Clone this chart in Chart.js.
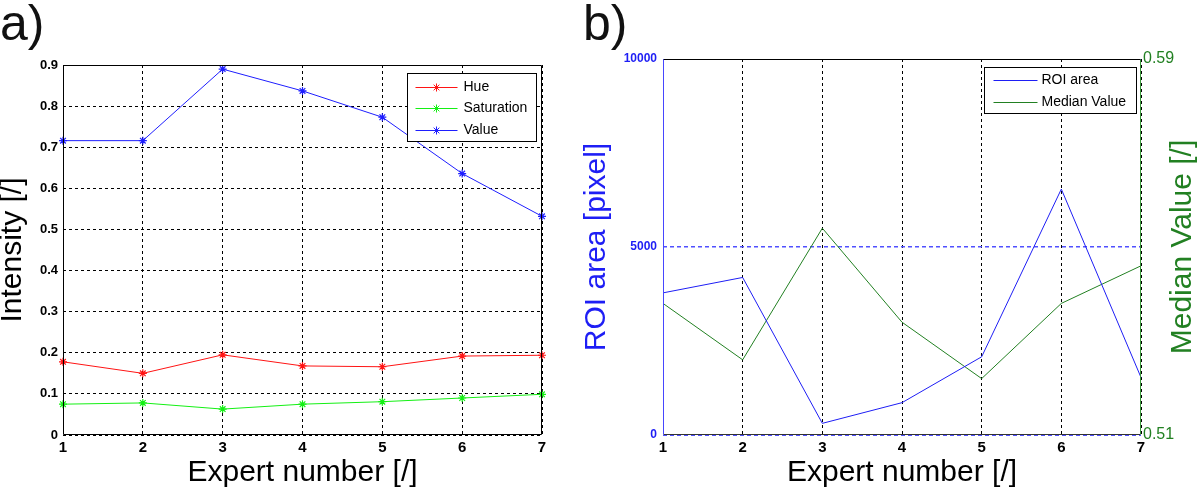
<!DOCTYPE html>
<html lang="en">
<head>
<meta charset="UTF-8">
<title>Expert comparison</title>
<script src="https://cdn.jsdelivr.net/npm/chart.js"></script>
<style>
  body { margin: 0; padding: 0; background: #fff; font-family: "Liberation Sans", Arial, sans-serif; }
  #page { position: relative; width: 1200px; height: 491px; overflow: hidden; }
  .panel { position: absolute; top: 0; height: 491px; }
  #left { left: 0; width: 570px; }
  #right { left: 570px; width: 630px; }
  .tag { position: absolute; top: -2px; font-size: 50px; line-height: 50px; color: #111; z-index: 2; }
</style>
</head>
<body>
<div id="page">
  <div class="panel" id="left"><canvas id="hsvChart"></canvas></div>
  <div class="panel" id="right"><canvas id="roiChart"></canvas></div>
  <div class="tag" style="left:0px">a)</div>
  <div class="tag" style="left:583px">b)</div>
</div>
<script>
// data
const experts = ['1', '2', '3', '4', '5', '6', '7'];
const hue = [0.178, 0.150, 0.195, 0.168, 0.166, 0.192, 0.194];
const saturation = [0.075, 0.078, 0.063, 0.075, 0.081, 0.090, 0.099];
const value = [0.716, 0.716, 0.890, 0.837, 0.773, 0.636, 0.532];
const intensityTicks = [0, 0.1, 0.2, 0.3, 0.4, 0.5, 0.6, 0.7, 0.8, 0.9];

const roiArea = [3780, 4190, 310, 860, 2080, 6540, 1530];
const medianValue = [0.538, 0.526, 0.554, 0.534, 0.522, 0.538, 0.546];
const roiTicks = [0, 5000, 10000];
const medianTicks = [0.51, 0.59];

const FONT = "'Liberation Sans', Arial, sans-serif";
const BLUE = 'rgb(30,30,245)';
const GREEN = 'rgb(34,128,34)';

function drawStar(ctx, x, y, r) {
  ctx.beginPath();
  ctx.moveTo(x - r, y); ctx.lineTo(x + r, y);
  ctx.moveTo(x, y - r); ctx.lineTo(x, y + r);
  const d = r * 0.7071;
  ctx.moveTo(x - d, y - d); ctx.lineTo(x + d, y + d);
  ctx.moveTo(x - d, y + d); ctx.lineTo(x + d, y - d);
  ctx.stroke();
}

// solid box around the plot area, one colour per side
const framePlugin = {
  id: 'frame',
  afterDatasetsDraw(chart, args, o) {
    const { ctx, chartArea: a } = chart;
    const L = Math.round(a.left) + 0.5, R = Math.round(a.right) - 0.5;
    const T = Math.round(a.top) + 0.5, B = Math.round(a.bottom) - 0.5;
    const side = (x1, y1, x2, y2, c) => {
      ctx.strokeStyle = c;
      ctx.beginPath(); ctx.moveTo(x1, y1); ctx.lineTo(x2, y2); ctx.stroke();
    };
    ctx.save();
    ctx.lineWidth = 1;
    ctx.setLineDash([]);
    side(L, T, R, T, o.top);
    side(L, B, R, B, o.bottom);
    side(L, T, L, B, o.left);
    side(R, T, R, B, o.right);
    ctx.restore();
  }
};

// MATLAB-style legend box in the top right corner of the plot
const boxLegend = {
  id: 'boxLegend',
  afterDraw(chart, args, o) {
    const { ctx, chartArea: a } = chart;
    const x = Math.round(a.right - o.right - o.width) + 0.5;
    const y = Math.round(a.top + o.top) + 0.5;
    ctx.save();
    ctx.fillStyle = '#fff';
    ctx.fillRect(x, y, o.width, o.height);
    ctx.strokeStyle = '#000';
    ctx.lineWidth = 1;
    ctx.strokeRect(x, y, o.width, o.height);
    ctx.font = '14px ' + FONT;
    ctx.textBaseline = 'middle';
    chart.data.datasets.forEach((ds, i) => {
      const ly = Math.round(y + o.first + i * o.row) + 0.5;
      ctx.strokeStyle = ds.borderColor;
      ctx.beginPath();
      ctx.moveTo(x + o.lineFrom, ly);
      ctx.lineTo(x + o.lineTo, ly);
      ctx.stroke();
      if (ds.pointRadius) drawStar(ctx, x + (o.lineFrom + o.lineTo) / 2, ly, ds.pointRadius);
      ctx.fillStyle = '#000';
      ctx.fillText(ds.label, x + o.textX, ly);
    });
    ctx.restore();
  }
};

// right axis title, reading bottom to top like the left one
const sideTitle = {
  id: 'sideTitle',
  afterDraw(chart, args, o) {
    const { ctx, chartArea: a } = chart;
    const s = chart.scales[o.axis];
    ctx.save();
    ctx.translate(s.right - o.offset, (a.top + a.bottom) / 2);
    ctx.rotate(-Math.PI / 2);
    ctx.font = o.size + 'px ' + FONT;
    ctx.fillStyle = o.color;
    ctx.textAlign = 'center';
    ctx.textBaseline = 'middle';
    ctx.fillText(o.text, 0, 0);
    ctx.restore();
  }
};

const xTickFont = { family: FONT, size: 15, weight: 'bold' };
const titleFont = { family: FONT, size: 30 };

new Chart(document.getElementById('hsvChart'), {
  type: 'line',
  data: {
    labels: experts,
    datasets: [
      { label: 'Hue', data: hue, borderColor: 'rgb(255,20,20)' },
      { label: 'Saturation', data: saturation, borderColor: 'rgb(20,240,20)' },
      { label: 'Value', data: value, borderColor: 'rgb(30,30,255)' }
    ].map(d => Object.assign(d, {
      borderWidth: 1, pointStyle: 'star', pointRadius: 4, pointBorderWidth: 1.2,
      pointBorderColor: d.borderColor, tension: 0, clip: false
    }))
  },
  options: {
    responsive: true,
    maintainAspectRatio: false,
    animation: false,
    layout: { padding: { top: 65, right: 28, left: 0, bottom: 0 } },
    plugins: {
      legend: { display: false },
      tooltip: { enabled: false },
      frame: { top: '#000', bottom: '#000', left: '#000', right: '#000' },
      boxLegend: { width: 129, height: 68, right: 6, top: 8, first: 13, row: 21.5, lineFrom: 8, lineTo: 50, textX: 56 }
    },
    scales: {
      x: {
        grid: { color: '#000', lineWidth: 1, drawTicks: false },
        border: { display: false, dash: [3, 3] },
        ticks: { color: '#000', font: xTickFont, padding: 4, maxRotation: 0 },
        title: { display: true, text: 'Expert number [/]', color: '#000', font: titleFont, padding: { top: 0, bottom: 0 } },
        afterFit: s => { s.height = 56; }
      },
      y: {
        min: 0, max: 0.9,
        afterBuildTicks: s => { s.ticks = intensityTicks.map(v => ({ value: v })); },
        grid: { color: '#000', lineWidth: 1, drawTicks: false },
        border: { display: false, dash: [3, 3] },
        ticks: { color: '#000', font: { family: FONT, size: 13, weight: 'bold' }, padding: 5 },
        title: { display: true, text: 'Intensity [/]', color: '#000', font: titleFont, padding: { top: -5, bottom: 0 } },
        afterFit: s => { s.width = 63; }
      }
    }
  },
  plugins: [framePlugin, boxLegend]
});

new Chart(document.getElementById('roiChart'), {
  type: 'line',
  data: {
    labels: experts,
    datasets: [
      { label: 'ROI area', data: roiArea, borderColor: BLUE, yAxisID: 'y' },
      { label: 'Median Value', data: medianValue, borderColor: GREEN, yAxisID: 'y2' }
    ].map(d => Object.assign(d, { borderWidth: 1, pointRadius: 0, tension: 0, clip: false }))
  },
  options: {
    responsive: true,
    maintainAspectRatio: false,
    animation: false,
    layout: { padding: { top: 59, right: 0, left: 0, bottom: 0 } },
    plugins: {
      legend: { display: false },
      tooltip: { enabled: false },
      frame: { top: '#000', bottom: '#333', left: 'rgb(70,70,255)', right: 'rgb(60,150,60)' },
      boxLegend: { width: 152, height: 46, right: 5, top: 8, first: 12, row: 22, lineFrom: 9, lineTo: 53, textX: 57 },
      sideTitle: { axis: 'y2', text: 'Median Value [/]', color: GREEN, size: 30, offset: 17 }
    },
    scales: {
      x: {
        grid: { color: '#000', lineWidth: 1, drawTicks: false },
        border: { display: false, dash: [3, 3] },
        ticks: { color: '#000', font: xTickFont, padding: 4, maxRotation: 0 },
        title: { display: true, text: 'Expert number [/]', color: '#000', font: titleFont, padding: { top: 0, bottom: 0 } },
        afterFit: s => { s.height = 56; }
      },
      y: {
        position: 'left',
        min: 0, max: 10000,
        afterBuildTicks: s => { s.ticks = roiTicks.map(v => ({ value: v })); },
        // inner grid line a little wider so it keeps its blue; edge ones sit under the frame
        grid: {
          color: 'rgb(80,80,255)', drawTicks: false,
          lineWidth: c => (c.index > 0 && c.index < roiTicks.length - 1) ? 1.6 : 1
        },
        border: { display: false, dash: [4, 3] },
        ticks: { color: BLUE, font: { family: FONT, size: 12, weight: 'bold' }, padding: 6, callback: v => String(v) },
        title: { display: true, text: 'ROI area [pixel]', color: BLUE, font: titleFont, padding: { top: 9, bottom: 0 } },
        afterFit: s => { s.width = 93; }
      },
      y2: {
        position: 'right',
        min: 0.51, max: 0.59,
        afterBuildTicks: s => { s.ticks = medianTicks.map(v => ({ value: v })); },
        grid: { display: false, drawTicks: false },
        border: { display: false },
        ticks: { color: GREEN, font: { family: FONT, size: 16 }, padding: 2, callback: v => v.toFixed(2) },
        afterFit: s => { s.width = 59; }
      }
    }
  },
  plugins: [framePlugin, boxLegend, sideTitle]
});
</script>
</body>
</html>
